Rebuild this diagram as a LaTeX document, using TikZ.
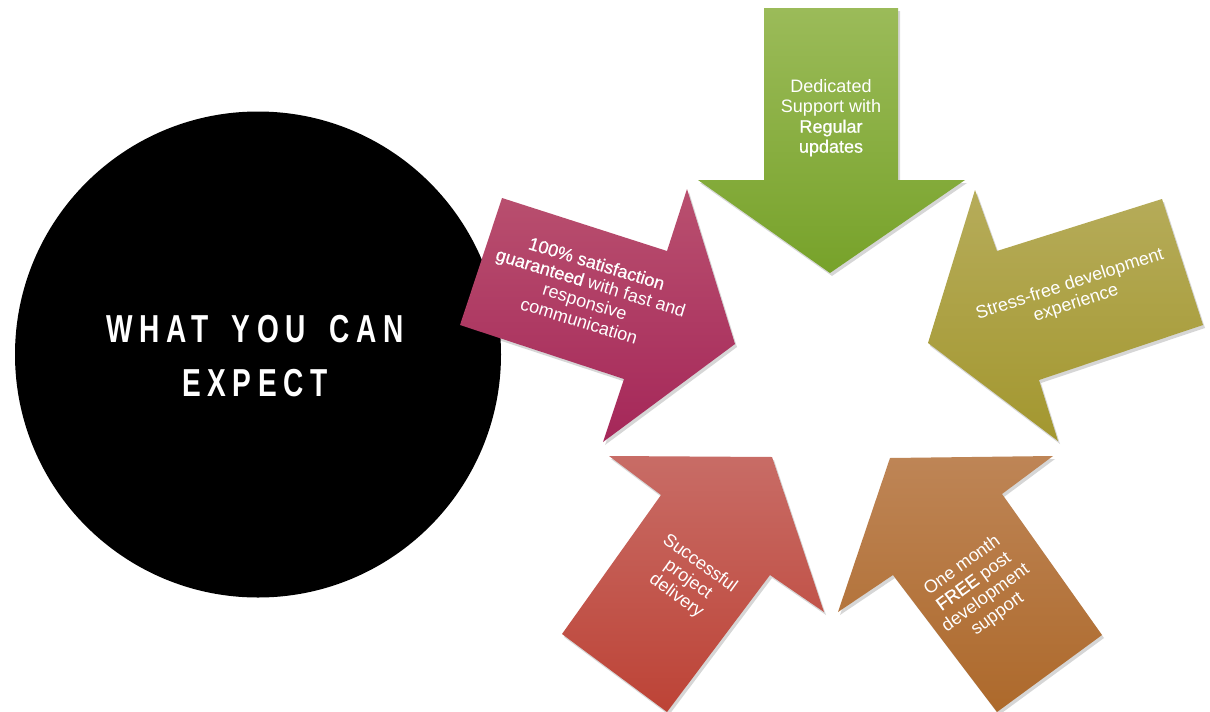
\documentclass[tikz,border=0pt]{standalone}
\usepackage{fontspec}
\setmainfont{Liberation Sans}
\newfontfamily\titlefont[FakeStretch=0.72,LetterSpace=17]{Liberation Sans}
\newfontfamily\emfont[FakeBold=0.7]{Liberation Sans}
\definecolor{gtop}{HTML}{9BBB59}\definecolor{gbot}{HTML}{77A22A}
\definecolor{ptop}{HTML}{B9506F}\definecolor{pbot}{HTML}{A52759}
\definecolor{otop}{HTML}{B6AC5A}\definecolor{obot}{HTML}{A3972F}
\definecolor{rtop}{HTML}{C86C66}\definecolor{rbot}{HTML}{BD4336}
\definecolor{ntop}{HTML}{BE8556}\definecolor{nbot}{HTML}{AD692B}
\begin{document}
\begin{tikzpicture}[x=1pt,y=-1pt,
  arrowshadow/.style={fill=black,opacity=0.16,shift={(2,3)}},
  lbl/.style={text=white,align=center,inner sep=0pt,font=\fontsize{18}{20}\selectfont},
]
\useasboundingbox[fill=white] (0,0) rectangle (1210,712);
% circle
\node[circle,fill=black,minimum size=486pt,inner sep=0pt] (circ) at (258,354.5) {};
\node[text=white,align=center,inner sep=0pt,font=\titlefont\bfseries\fontsize{39}{54}\selectfont] (title) at (255,356) {WHAT\hspace{9pt} YOU\hspace{9pt} CAN\\EXPECT};
% green arrow (down)
\fill[arrowshadow] (764,8) -- (898,8) -- (898,180) -- (965,180) -- (830,273) -- (698,180) -- (764,180) -- cycle;
\shade[top color=gtop,bottom color=gbot] (764,8) -- (898,8) -- (898,180) -- (965,180) -- (830,273) -- (698,180) -- (764,180) -- cycle;
% pink arrow
\fill[arrowshadow] (502,198) -- (667,251) -- (687,189) -- (735,344) -- (603,442) -- (624,379) -- (460,325) -- cycle;
\shade[top color=ptop,bottom color=pbot] (502,198) -- (667,251) -- (687,189) -- (735,344) -- (603,442) -- (624,379) -- (460,325) -- cycle;
% olive arrow
\fill[arrowshadow] (1162,199) -- (1203,325) -- (1039,380) -- (1058,441) -- (928,343) -- (975,190) -- (997,251) -- cycle;
\shade[top color=otop,bottom color=obot] (1162,199) -- (1203,325) -- (1039,380) -- (1058,441) -- (928,343) -- (975,190) -- (997,251) -- cycle;
% red arrow
\fill[arrowshadow] (661,495) -- (609,456) -- (772,457) -- (824,612) -- (770,575) -- (667,712) -- (562,634) -- cycle;
\shade[top color=rtop,bottom color=rbot] (661,495) -- (609,456) -- (772,457) -- (824,612) -- (770,575) -- (667,712) -- (562,634) -- cycle;
% orange arrow
\fill[arrowshadow] (893,575) -- (838,612) -- (890,458) -- (1053,456) -- (1002,494) -- (1102,635) -- (997,712) -- cycle;
\shade[top color=ntop,bottom color=nbot] (893,575) -- (838,612) -- (890,458) -- (1053,456) -- (1002,494) -- (1102,635) -- (997,712) -- cycle;
% labels
\node[lbl] (t1) at (831,118) {Dedicated\\Support with\\{\emfont Regular}\\{\emfont updates}};
\node[lbl,rotate=-17] (t2) at (588,292) {{\emfont 100\% satisfaction}\\{\emfont guaranteed} with fast and\\responsive\\communication};
\node[lbl,rotate=18] (t3) at (1073,294) {Stress-free development\\experience};
\node[lbl,rotate=-36] (t4) at (688,580) {Successful\\project\\delivery};
\node[lbl,rotate=36] (t5) at (980,590) {One month\\{\emfont FREE} post\\development\\support};
\end{tikzpicture}
\end{document}
